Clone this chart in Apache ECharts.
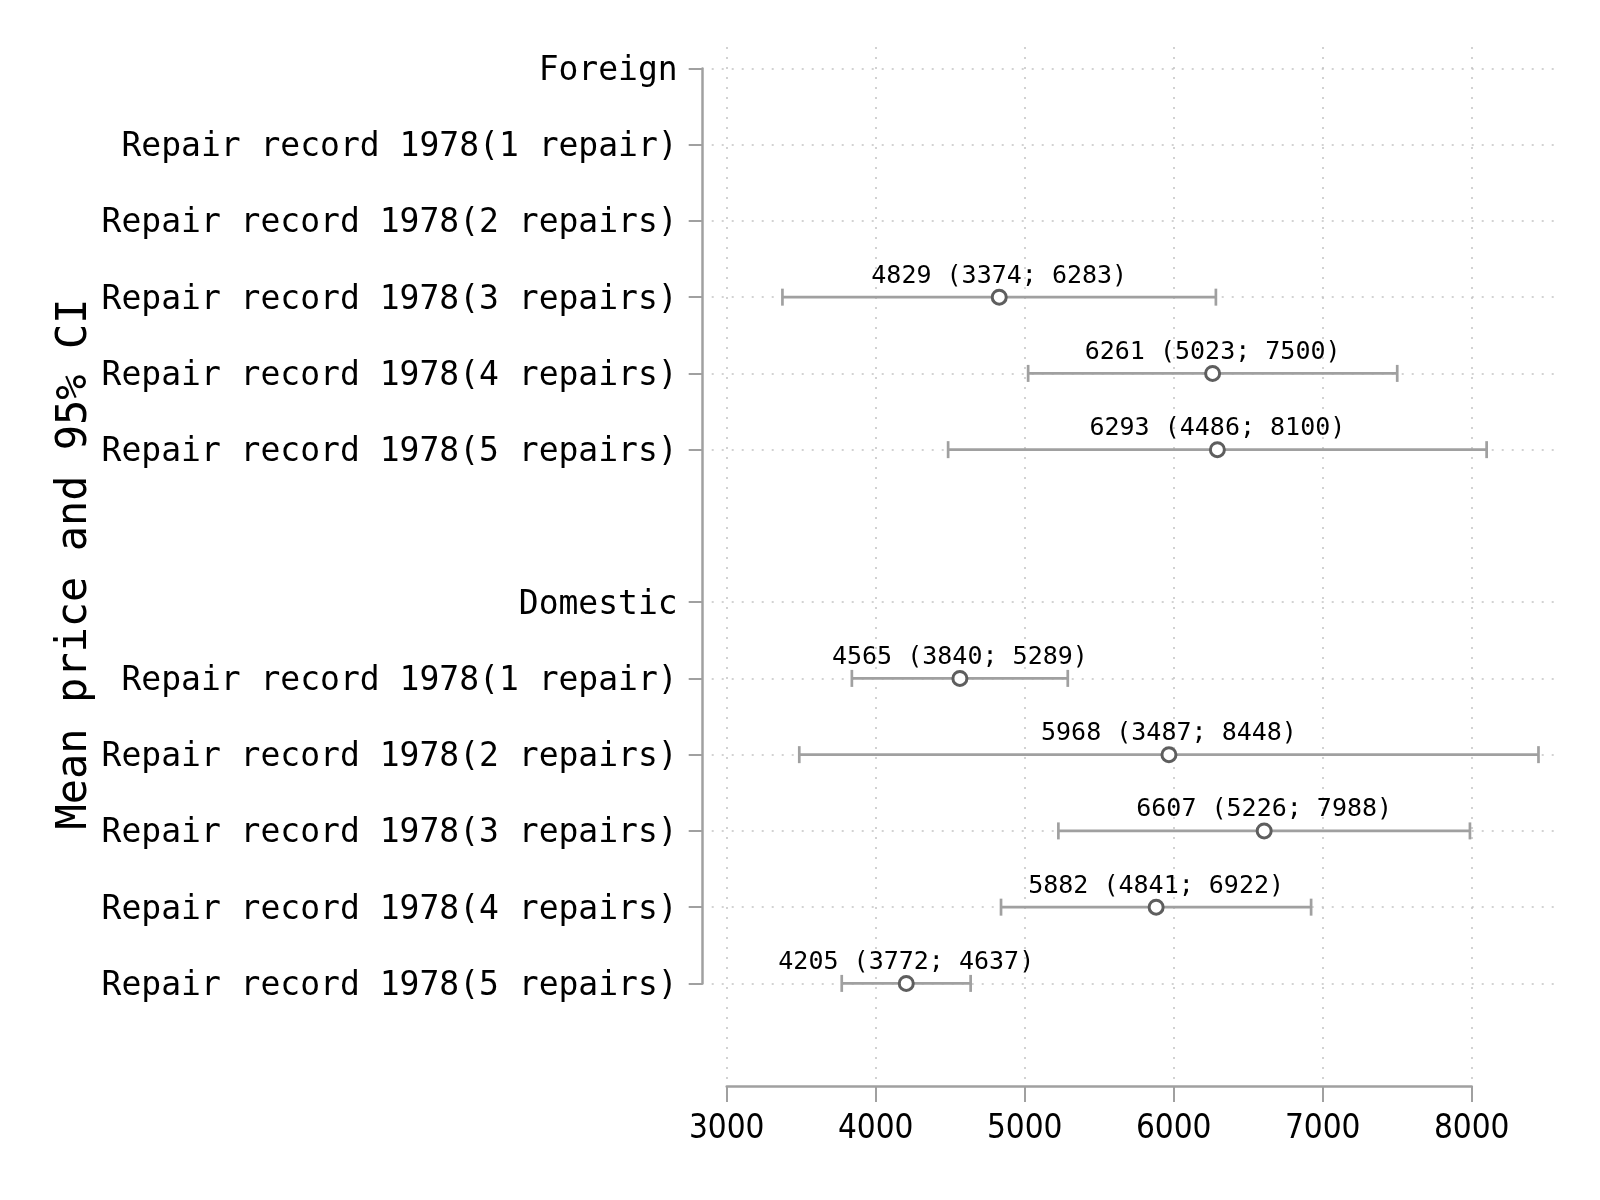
<!DOCTYPE html>
<html>
<head>
<meta charset="utf-8">
<script src="https://cdn.jsdelivr.net/npm/echarts@6/dist/echarts.min.js"></script>
<style>
  html, body { margin: 0; padding: 0; background: #fff; }
  #chart { width: 1600px; height: 1200px; }
</style>
</head>
<body>
<div id="chart"></div>
<script>
// rows of the y axis, top to bottom ('' = empty spacer row)
const categories = [
  'Foreign',
  'Repair record 1978(1 repair)',
  'Repair record 1978(2 repairs)',
  'Repair record 1978(3 repairs)',
  'Repair record 1978(4 repairs)',
  'Repair record 1978(5 repairs)',
  '',
  'Domestic',
  'Repair record 1978(1 repair)',
  'Repair record 1978(2 repairs)',
  'Repair record 1978(3 repairs)',
  'Repair record 1978(4 repairs)',
  'Repair record 1978(5 repairs)'
];
const means = [null, null, null, 4829, 6261, 6293, null, null, 4565, 5968, 6607, 5882, 4205];
const lower = [null, null, null, 3374, 5023, 4486, null, null, 3840, 3487, 5226, 4841, 3772];
const upper = [null, null, null, 6283, 7500, 8100, null, null, 5289, 8448, 7988, 6922, 4637];
const xTicks = [3000, 4000, 5000, 6000, 7000, 8000];

const gray = '#a0a0a0';
const gridGray = '#c4c4c4';
const monoFont = 'DejaVu Sans Mono';

const ciData = [];
const meanData = [];
categories.forEach((c, i) => {
  if (means[i] == null) return;
  ciData.push([i, lower[i], upper[i]]);
  meanData.push([means[i], i]);
});

const myChart = echarts.init(document.getElementById('chart'));

myChart.setOption({
  animation: false,
  grid: [
    // x axis with ticks 3000..8000 + vertical grid lines
    { left: 726.7, top: 47, width: 745, height: 1039 },
    // category rows + marks
    { left: 711.7, top: 68.4, width: 846.3, height: 915 }
  ],
  xAxis: [
    {
      gridIndex: 0,
      type: 'value',
      min: xTicks[0],
      max: xTicks[xTicks.length - 1],
      interval: 1000,
      axisLine: { show: true, lineStyle: { color: gray, width: 2.5 } },
      axisTick: { show: true, length: 16, lineStyle: { color: gray, width: 2 } },
      axisLabel: {
        margin: 27,
        fontFamily: 'DejaVu Sans Condensed',
        fontSize: 33,
        color: '#000',
        formatter: (v) => String(v)
      },
      splitLine: { show: true, lineStyle: { color: gridGray, width: 1.5, type: [2, 8] } }
    },
    {
      gridIndex: 1,
      type: 'value',
      min: 2899.3,
      max: 8579,
      show: false
    }
  ],
  yAxis: [
    { gridIndex: 0, type: 'value', show: false },
    {
      gridIndex: 1,
      type: 'category',
      data: categories,
      inverse: true,
      boundaryGap: false,
      offset: 9,
      axisLine: { show: true, lineStyle: { color: gray, width: 2.5 } },
      axisTick: {
        show: true,
        length: 14,
        lineStyle: { color: gray, width: 2 },
        interval: (i, v) => v !== ''
      },
      axisLabel: {
        margin: 25,
        fontFamily: monoFont,
        fontSize: 33,
        color: '#000',
        verticalAlign: 'top',
        lineHeight: 6,
        interval: (i, v) => v !== ''
      },
      splitLine: {
        show: true,
        interval: (i, v) => v !== '',
        lineStyle: { color: gridGray, width: 1.5, type: [2, 8] }
      }
    }
  ],
  graphic: [
    {
      type: 'text',
      x: 75,
      y: 564,
      rotation: Math.PI / 2,
      style: {
        text: 'Mean price and 95% CI',
        font: '42px "DejaVu Sans Mono"',
        fill: '#000',
        textAlign: 'center',
        textVerticalAlign: 'middle'
      }
    }
  ],
  series: [
    {
      type: 'custom',
      xAxisIndex: 1,
      yAxisIndex: 1,
      encode: { x: [1, 2], y: 0 },
      data: ciData,
      renderItem: (params, api) => {
        const lo = api.coord([api.value(1), api.value(0)]);
        const hi = api.coord([api.value(2), api.value(0)]);
        const cap = 8.5;
        const style = { stroke: gray, lineWidth: 2.7 };
        return {
          type: 'group',
          children: [
            { type: 'line', shape: { x1: lo[0], y1: lo[1], x2: hi[0], y2: hi[1] }, style },
            { type: 'line', shape: { x1: lo[0], y1: lo[1] - cap, x2: lo[0], y2: lo[1] + cap }, style },
            { type: 'line', shape: { x1: hi[0], y1: hi[1] - cap, x2: hi[0], y2: hi[1] + cap }, style }
          ]
        };
      },
      z: 2
    },
    {
      type: 'scatter',
      xAxisIndex: 1,
      yAxisIndex: 1,
      data: meanData,
      symbol: 'circle',
      symbolSize: 14,
      itemStyle: { color: '#fff', borderColor: '#5e5e5e', borderWidth: 3, opacity: 1 },
      label: {
        show: true,
        position: 'top',
        distance: 0,
        fontFamily: monoFont,
        fontSize: 25,
        color: '#000',
        formatter: (p) => {
          const i = p.data[1];
          return `${means[i]} (${lower[i]}; ${upper[i]})`;
        }
      },
      z: 3
    }
  ]
});

window.addEventListener('resize', () => { myChart.resize(); });
</script>
</body>
</html>
